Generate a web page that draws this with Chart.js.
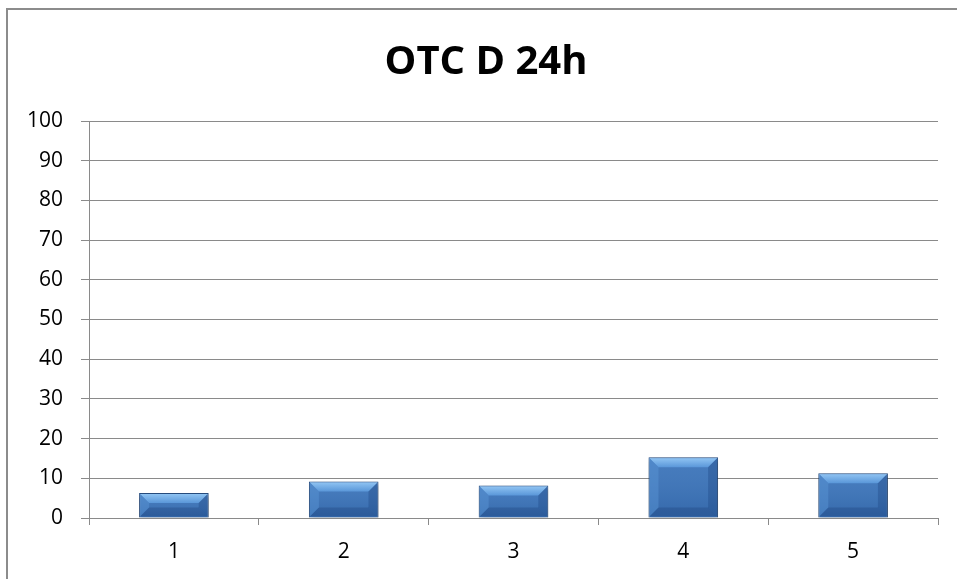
<!DOCTYPE html>
<html>
<head>
<meta charset="utf-8">
<script src="https://cdn.jsdelivr.net/npm/chart.js@4"></script>
<style>
	html, body { margin: 0; padding: 0; background: #fff; }
	#wrap { width: 957px; height: 579px; position: relative; }
</style>
</head>
<body>
<div id="wrap"><canvas id="chart"></canvas></div>
<script>
// data
const categories = ["1", "2", "3", "4", "5"]
const values = [6.3, 9.2, 8.2, 15.3, 11.3]
const yTicks = [0, 10, 20, 30, 40, 50, 60, 70, 80, 90, 100]
const chartTitle = "OTC D 24h"

const GRID = "#8a8a8a"
const FONT = "'Open Sans', 'Noto Sans', sans-serif"

// grey frame round the whole chart (cut off at right and bottom)
const frame = {
	id: "frame",
	beforeDraw(chart) {
		const c = chart.ctx
		c.save()
		c.strokeStyle = "#8c8c8c"
		c.lineWidth = 2
		c.strokeRect(7, 9, 1200, 1200)
		c.restore()
	},
}

// title, centred on the frame rather than on the canvas
const heading = {
	id: "heading",
	afterDraw(chart) {
		const c = chart.ctx
		c.save()
		c.font = "bold 40px " + FONT
		c.fillStyle = "#000"
		c.textAlign = "center"
		c.textBaseline = "middle"
		c.fillText(chartTitle, 486, 63)
		c.restore()
	},
}

// soft shadow under the bars
const shadow = {
	id: "shadow",
	beforeDatasetDraw(chart) {
		const c = chart.ctx
		c.save()
		c.shadowColor = "rgba(0,0,0,0.35)"
		c.shadowBlur = 5
		c.shadowOffsetX = 1
		c.shadowOffsetY = 3
	},
	afterDatasetDraw(chart) {
		chart.ctx.restore()
	},
}

// bevel look on every bar
const bevel = {
	id: "bevel",
	afterDatasetsDraw(chart) {
		const c = chart.ctx
		const meta = chart.getDatasetMeta(0)
		meta.data.forEach((bar) => {
			const l = bar.x - bar.width / 2 + 1
			const r = bar.x + bar.width / 2 - 1
			const t = bar.y + 1
			const b = bar.base - 1
			const d = Math.min(9, (b - t) / 2)
			c.save()
			// body shading
			let g = c.createLinearGradient(0, t, 0, b)
			g.addColorStop(0, "rgba(255,255,255,0.06)")
			g.addColorStop(1, "rgba(0,20,60,0.12)")
			c.fillStyle = g
			c.fillRect(l, t, r - l, b - t)
			// top
			g = c.createLinearGradient(0, t, 0, t + d)
			g.addColorStop(0, "#8fc3f2")
			g.addColorStop(1, "#5a97d9")
			c.fillStyle = g
			c.beginPath()
			c.moveTo(l, t); c.lineTo(r, t); c.lineTo(r - d, t + d); c.lineTo(l + d, t + d)
			c.closePath(); c.fill()
			// left
			c.fillStyle = "rgba(90,150,215,0.45)"
			c.beginPath()
			c.moveTo(l, t); c.lineTo(l + d, t + d); c.lineTo(l + d, b - d); c.lineTo(l, b)
			c.closePath(); c.fill()
			// right
			c.fillStyle = "rgba(30,70,130,0.35)"
			c.beginPath()
			c.moveTo(r, t); c.lineTo(r - d, t + d); c.lineTo(r - d, b - d); c.lineTo(r, b)
			c.closePath(); c.fill()
			// bottom
			c.fillStyle = "rgba(25,60,115,0.3)"
			c.beginPath()
			c.moveTo(l, b); c.lineTo(l + d, b - d); c.lineTo(r - d, b - d); c.lineTo(r, b)
			c.closePath(); c.fill()
			c.restore()
		})
	},
}

new Chart(document.getElementById("chart"), {
	type: "bar",
	data: {
		labels: categories,
		datasets: [
			{
				data: values,
				backgroundColor: "#3b74ba",
				borderColor: "#274d80",
				borderWidth: 1,
				barPercentage: 0.41,
				categoryPercentage: 1,
			},
		],
	},
	options: {
		responsive: true,
		maintainAspectRatio: false,
		animation: false,
		layout: { padding: { left: 0, right: 19, top: 121, bottom: 0 } },
		plugins: {
			legend: { display: false },
			tooltip: { enabled: false },
			title: { display: false },
		},
		scales: {
			x: {
				offset: true,
				grid: {
					offset: true,
					drawOnChartArea: false,
					color: GRID,
					tickLength: 7,
				},
				border: { color: GRID, width: 1 },
				ticks: {
					color: "#000",
					font: { family: FONT, size: 21 },
					padding: 14,
				},
				afterFit(scale) { scale.height = 61 },
			},
			y: {
				min: 0,
				max: 100,
				afterBuildTicks(scale) {
					scale.ticks = yTicks.map((v) => ({ value: v }))
				},
				grid: { color: GRID, tickLength: 8 },
				border: { color: GRID, width: 1 },
				ticks: {
					color: "#000",
					font: { family: FONT, size: 21 },
					padding: 18,
				},
				afterFit(scale) { scale.width = 89 },
			},
		},
	},
	plugins: [frame, shadow, bevel, heading],
})
</script>
</body>
</html>
